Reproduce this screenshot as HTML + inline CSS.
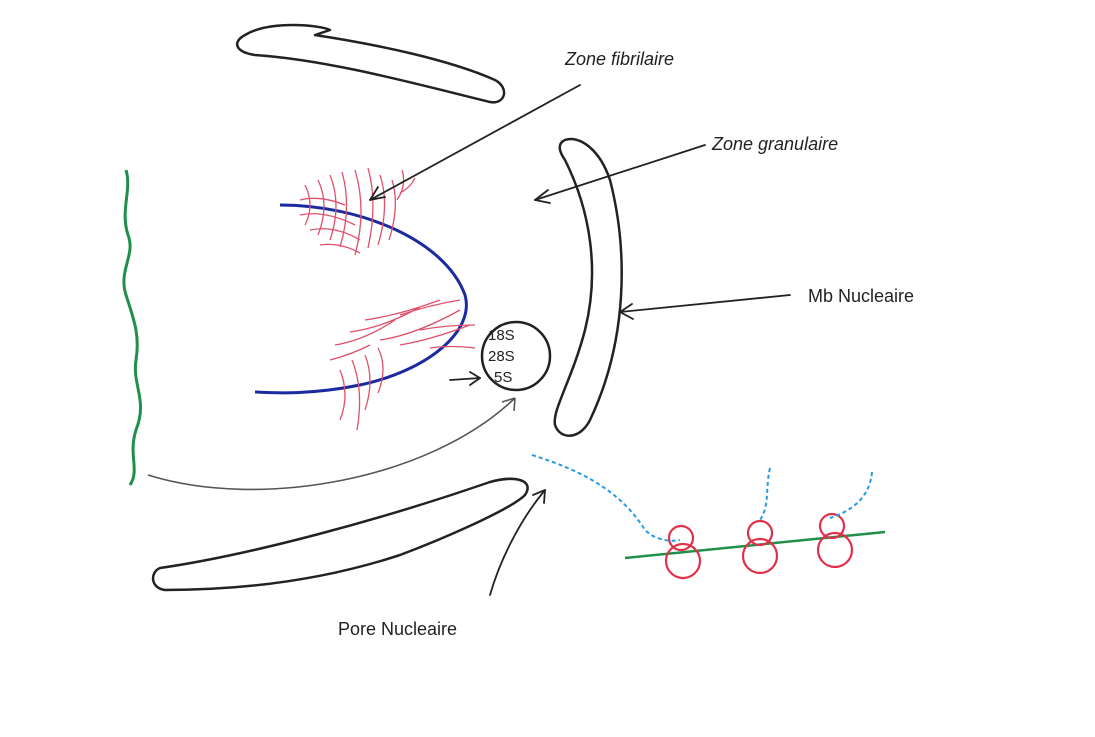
<!DOCTYPE html>
<html><head><meta charset="utf-8"><style>
html,body{margin:0;padding:0;background:#fff;}
svg{display:block}
text{font-family:"Liberation Sans",sans-serif;fill:#222;}
</style></head><body>
<svg width="1095" height="737" viewBox="0 0 1095 737" xmlns="http://www.w3.org/2000/svg">
<rect width="1095" height="737" fill="#fff"/>
<g fill="none" stroke="#222" stroke-width="2.5" stroke-linecap="round" stroke-linejoin="round">
<!-- top membrane -->
<path d="M245,35 C270,20 320,25 330,30 L315,35 C380,45 450,60 495,80 C510,88 505,105 490,102 C420,85 330,60 255,55 C235,52 232,42 245,35 Z"/>
<!-- right membrane -->
<path d="M565,140 C580,135 600,150 610,180 C628,250 628,340 590,420 C580,440 560,440 555,425 C552,410 572,380 585,330 C600,270 590,210 565,160 C558,150 558,143 565,140 Z"/>
<!-- bottom membrane -->
<path d="M160,568 C250,555 380,520 490,482 C515,475 535,480 525,495 C510,510 440,540 400,555 C330,578 250,590 165,590 C150,588 150,572 160,568 Z"/>
<!-- circle -->
<circle cx="516" cy="356" r="34"/>
</g>
<!-- green wavy -->
<path d="M126,170 C132,190 120,210 128,235 C136,255 118,270 126,295 C134,320 140,335 136,360 C132,385 148,400 136,430 C128,455 140,470 130,485" fill="none" stroke="#1f8f4a" stroke-width="3"/>
<!-- blue curve -->
<path d="M280,205 C360,205 445,240 465,295 C475,330 430,370 360,385 C310,395 275,393 255,392" fill="none" stroke="#1a2aa0" stroke-width="3"/>
<!-- red fibers -->
<g fill="none" stroke="#e0506a" stroke-width="1.3">
<path d="M305,185 q10,20 0,40 M318,180 q12,25 0,55 M330,175 q12,30 0,65 M342,172 q10,35 -2,75 M355,170 q12,40 0,85 M368,168 q10,35 0,80 M380,175 q10,30 -2,70 M392,180 q8,25 -3,60 M402,170 q5,15 -5,30 M415,178 q-5,10 -15,15"/>
<path d="M300,200 q20,-5 45,5 M300,215 q25,-5 55,10 M310,230 q25,-5 50,10 M320,245 q20,-3 40,8"/>
<path d="M340,370 q10,25 0,50 M352,360 q12,30 5,70 M365,355 q10,25 0,55 M378,348 q10,20 0,45 M330,360 q20,-5 40,-15 M335,345 q30,-5 60,-25 M350,332 q35,-5 70,-25 M365,320 q35,-5 75,-20 M380,340 q35,-5 80,-30 M400,345 q30,-5 70,-20 M420,330 q25,-5 55,-5 M400,315 q30,-10 60,-15 M430,348 q20,-3 45,0"/>
</g>
<!-- circle text -->
<text x="488" y="340" font-size="15">18S</text>
<text x="488" y="361" font-size="15">28S</text>
<text x="494" y="382" font-size="15">5S</text>
<!-- arrows -->
<g fill="none" stroke="#222" stroke-width="1.8" stroke-linecap="round">
<path d="M580,85 L370,200"/><path d="M370,200 L378,187 M370,200 L385,197"/>
<path d="M705,145 L535,200"/><path d="M535,200 L548,190 M535,200 L550,203"/>
<path d="M790,295 L620,312"/><path d="M620,312 L632,304 M620,312 L633,319"/>
<path d="M450,380 L480,378"/><path d="M480,378 L470,372 M480,378 L470,385"/>
<path d="M490,595 C500,560 520,520 545,490"/><path d="M545,490 L533,495 M545,490 L544,503"/>
</g>
<path d="M148,475 C260,510 430,480 515,398" fill="none" stroke="#555" stroke-width="1.6"/>
<path d="M515,398 L502,402 M515,398 L514,411" fill="none" stroke="#555" stroke-width="1.6"/>
<!-- labels -->
<text x="565" y="65" font-size="18" font-style="italic">Zone fibrilaire</text>
<text x="712" y="150" font-size="18" font-style="italic">Zone granulaire</text>
<text x="808" y="302" font-size="18">Mb Nucleaire</text>
<text x="338" y="635" font-size="18">Pore Nucleaire</text>
<!-- ribosomes -->
<path d="M625,558 L885,532" stroke="#1f8f4a" stroke-width="2.5" fill="none"/>
<g fill="none" stroke="#e0304a" stroke-width="2.2">
<circle cx="681" cy="538" r="12"/><circle cx="683" cy="561" r="17"/>
<circle cx="760" cy="533" r="12"/><circle cx="760" cy="556" r="17"/>
<circle cx="832" cy="526" r="12"/><circle cx="835" cy="550" r="17"/>
</g>
<g fill="none" stroke="#2a9ae0" stroke-width="2" stroke-dasharray="4,3">
<path d="M532,455 C580,470 620,490 645,530 C655,540 670,542 680,540"/>
<path d="M770,468 C765,490 770,505 760,520"/>
<path d="M872,472 C870,495 855,510 830,518"/>
</g>
</svg>
</body></html>
